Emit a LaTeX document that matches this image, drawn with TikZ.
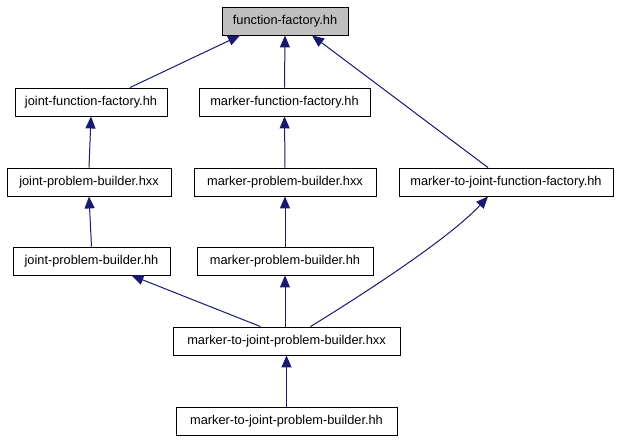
\documentclass[tikz,border=0pt]{standalone}
\usepackage{fontspec}
\setmainfont{Liberation Sans}
\usetikzlibrary{arrows.meta}
\definecolor{edgeblue}{HTML}{191970}
\definecolor{rootgray}{HTML}{BFBFBF}
\begin{document}
\begin{tikzpicture}[x=1pt, y=-1pt,
    file/.style={draw, line width=0.9pt, inner sep=0pt, minimum height=28pt,
      font=\fontsize{12.8}{15}\selectfont},
    dep/.style={draw=edgeblue, line width=1pt,
      -{Triangle[length=12pt, width=10pt, fill=edgeblue]}}]
  \useasboundingbox (0, 0) rectangle (619, 443);

  \node[file, fill=rootgray, minimum width=126pt] (ff) at (285, 21) {function-factory.hh};

  \node[file, minimum width=152pt] (jff) at (91, 102) {joint-function-factory.hh};
  \node[file, minimum width=171pt] (mff) at (284.5, 102) {marker-function-factory.hh};

  \node[file, minimum width=164pt] (jpbx) at (89, 182) {joint-problem-builder.hxx};
  \node[file, minimum width=182pt] (mpbx) at (285, 182) {marker-problem-builder.hxx};
  \node[file, minimum width=214pt] (mtjff) at (506, 182) {marker-to-joint-function-factory.hh};

  \node[file, minimum width=157pt] (jpbh) at (91.5, 261) {joint-problem-builder.hh};
  \node[file, minimum width=176pt] (mpbh) at (285, 261) {marker-problem-builder.hh};

  \node[file, minimum width=227pt] (mtjpbx) at (286.5, 341) {marker-to-joint-problem-builder.hxx};
  \node[file, minimum width=221pt] (mtjpbh) at (286.5, 421) {marker-to-joint-problem-builder.hh};

  \draw[dep] ([xshift=39pt]jff.north) -- ([xshift=-45pt]ff.south);
  \draw[dep] (mff.north) -- (ff.south);
  \draw[dep] ([xshift=-18pt]mtjff.north) -- ([xshift=27pt]ff.south);

  \draw[dep] (jpbx.north) -- (jff.south);
  \draw[dep] (mpbx.north) -- (mff.south);

  \draw[dep] (jpbh.north) -- (jpbx.south);
  \draw[dep] (mpbh.north) -- (mpbx.south);

  \draw[dep] ([xshift=-26pt]mtjpbx.north) -- ([xshift=40pt]jpbh.south);
  \draw[dep] ([xshift=-1.5pt]mtjpbx.north) -- (mpbh.south);
  \draw[dep] ([xshift=24pt]mtjpbx.north) .. controls (362, 295) and (450, 238) .. ([xshift=-18pt]mtjff.south);

  \draw[dep] (mtjpbh.north) -- (mtjpbx.south);
\end{tikzpicture}
\end{document}
